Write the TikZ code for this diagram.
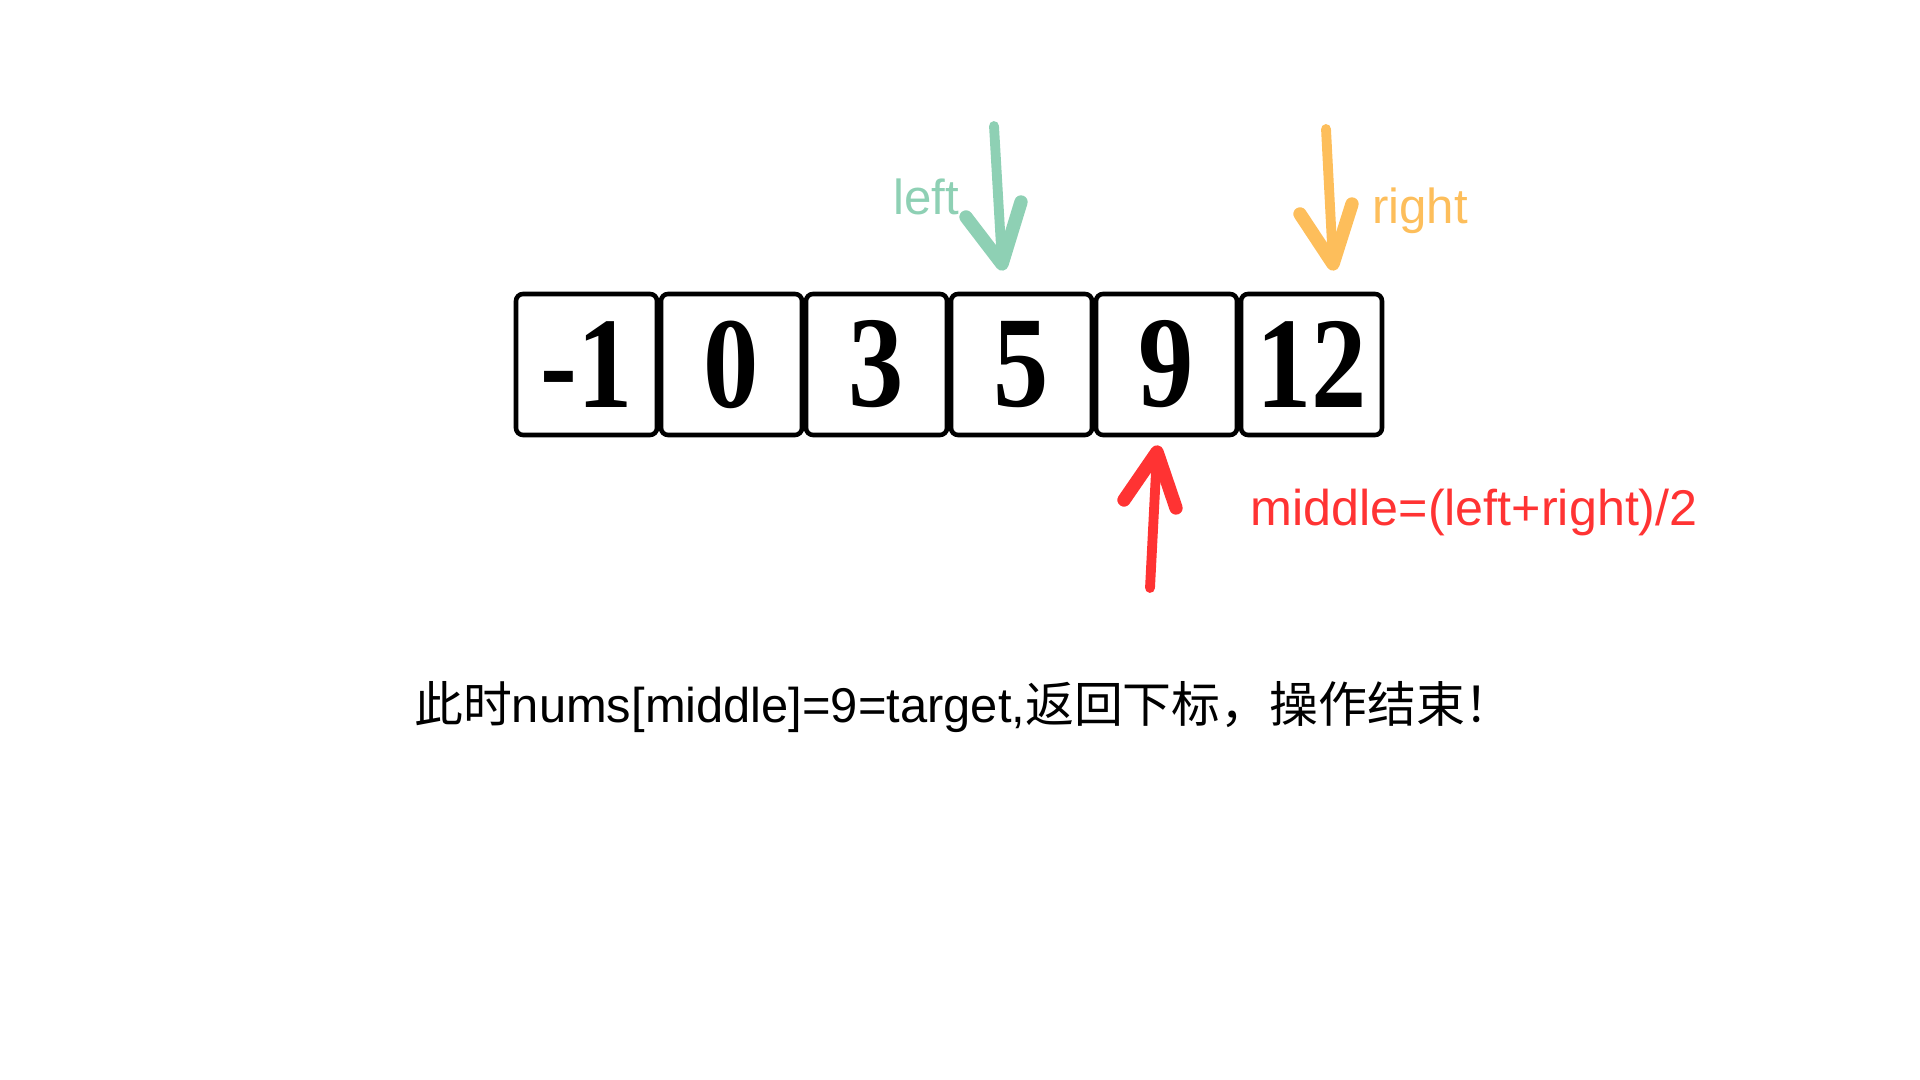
\documentclass[tikz,border=0pt]{standalone}
\usepackage{fontspec}
\usepackage{graphicx}
\setmainfont{Liberation Sans}
\newfontfamily\cjk{Noto Sans CJK SC}
\newfontfamily\digitfont{Liberation Serif}
\usetikzlibrary{positioning}
\definecolor{LeftGreen}{RGB}{142, 208, 180}
\definecolor{RightOrange}{RGB}{253, 190, 91}
\definecolor{MidRed}{RGB}{255, 51, 51}

\begin{document}
\begin{tikzpicture}[
      cell/.style={rectangle, draw=black, line width=1.3pt, rounded corners=2pt, minimum width=1.41cm, minimum height=1.41cm, inner sep=0pt, outer sep=0pt, font=\digitfont\bfseries\fontsize{37}{37}\selectfont},
      shaft/.style={line width=2.8pt, line cap=round, line join=round},
      head/.style={line width=3.8pt, line cap=round, line join=round},
      tag/.style={inner sep=0pt, font=\fontsize{14}{16}\selectfont}
    ]
      \useasboundingbox (0,0) rectangle (19.2,10.8);

      % the array
      \node[cell] (c1) at (5.865,7.155) {\scalebox{0.85}[1]{-1}};
      \node[cell, right=0.04cm of c1] (c2) {\scalebox{0.85}[1]{0}};
      \node[cell, right=0.04cm of c2] (c3) {\scalebox{0.85}[1]{3}};
      \node[cell, right=0.04cm of c3] (c4) {\scalebox{0.85}[1]{5}};
      \node[cell, right=0.04cm of c4] (c5) {\scalebox{0.85}[1]{9}};
      \node[cell, right=0.04cm of c5] (c6) {\scalebox{0.85}[1]{12}};

      % left pointer
      \coordinate (ltail) at (9.94,9.54);
      \coordinate (ltip) at (10.02,8.16);
      \draw[shaft, LeftGreen] (ltail) -- (ltip);
      \draw[head, LeftGreen] (9.66,8.63) -- (ltip) -- (10.21,8.78);
      \node[tag, text=LeftGreen] (lname) at (9.26,8.83) {left};

      % right pointer
      \coordinate (rtail) at (13.26,9.51);
      \coordinate (rtip) at (13.33,8.16);
      \draw[shaft, RightOrange] (rtail) -- (rtip);
      \draw[head, RightOrange] (13.00,8.66) -- (rtip) -- (13.52,8.76);
      \node[tag, text=RightOrange] (rname) at (14.20,8.69) {right};

      % middle pointer
      \coordinate (mtail) at (11.50,4.92);
      \coordinate (mtip) at (11.57,6.28);
      \draw[shaft, MidRed] (mtail) -- (mtip);
      \draw[head, MidRed] (11.24,5.80) -- (mtip) -- (11.76,5.72);
      \node[tag, text=MidRed, anchor=west, font=\fontsize{14.3}{16}\selectfont] (mname) at (12.50,5.67) {middle=(left+right)/2};

      \node[inner sep=0pt, font=\fontsize{13.9}{16}\selectfont] (note) at (9.64,3.73) {{\cjk 此时}nums[middle]=9=target,{\cjk 返回下标，操作结束！}};
    \end{tikzpicture}
\end{document}
